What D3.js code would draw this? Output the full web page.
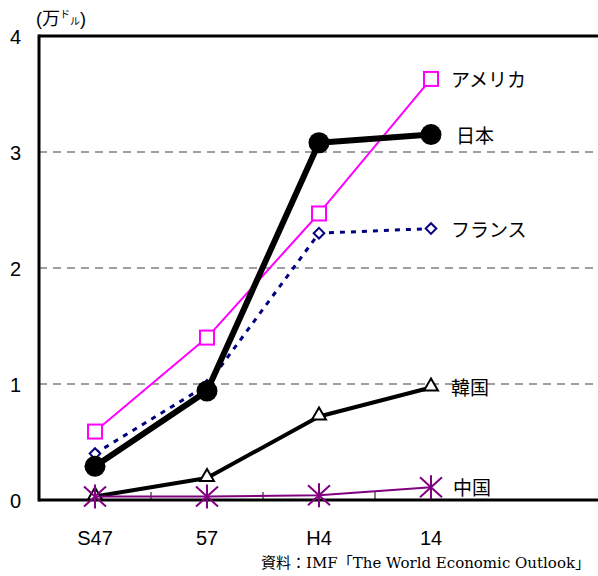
<!DOCTYPE html>
<html><head><meta charset="utf-8">
<script src="https://cdn.jsdelivr.net/npm/d3@7"></script>
<style>body{margin:0;background:#fff}svg{display:block}</style>
</head><body>
<script>
const categories = ["S47", "57", "H4", "14", ""];
const usa = [0.59, 1.40, 2.47, 3.63];
const japan = [0.29, 0.94, 3.08, 3.15];
const france = [0.40, 0.99, 2.30, 2.34];
const korea = [0.03, 0.19, 0.72, 0.97];
const china = [0.03, 0.03, 0.04, 0.11];
const yTicks = [0, 1, 2, 3, 4];
const seriesNames = ["アメリカ", "日本", "フランス", "韓国", "中国"];

(function () {
const W = 598, H = 576;
const svg = d3.select("body").append("svg").attr("width", W).attr("height", H);
const mLeft = 39, mRight = 599, mTop = 36, mBottom = 500;
const x = d3.scaleBand().domain(categories.map((c, i) => i)).range([mLeft, mRight]);
const y = d3.scaleLinear().domain([0, 4]).range([mBottom, mTop]);
const cx = i => x(i) + x.bandwidth() / 2;
const font = "Arial, 'Liberation Sans', 'Noto Sans CJK JP', sans-serif";

// gridlines
svg.append("g").selectAll("line").data([1, 2, 3]).join("line")
  .attr("x1", mLeft).attr("x2", W).attr("y1", d => y(d)).attr("y2", d => y(d))
  .attr("stroke", "#808080").attr("stroke-width", 1.5).attr("stroke-dasharray", "8,6");

// frame
svg.append("line").attr("x1", mLeft).attr("x2", W).attr("y1", mTop).attr("y2", mTop).attr("stroke", "#000").attr("stroke-width", 3);
svg.append("line").attr("x1", mLeft).attr("x2", mLeft).attr("y1", mTop - 1.5).attr("y2", mBottom + 1.5).attr("stroke", "#000").attr("stroke-width", 3);

// x-axis
const xAxis = d3.axisBottom(x).tickSizeInner(0).tickSizeOuter(0).tickFormat(i => categories[i]);
const gx = svg.append("g").attr("transform", `translate(0,${mBottom})`).call(xAxis);
gx.select(".domain").remove();
gx.selectAll("text").attr("font-family", font).attr("font-size", 20).attr("fill", "#000").attr("dy", 0).attr("y", 45);
svg.append("g").selectAll("line").data([1, 2, 3]).join("line")
  .attr("x1", i => x(i)).attr("x2", i => x(i)).attr("y1", mBottom).attr("y2", mBottom - 8)
  .attr("stroke", "#000").attr("stroke-width", 1);
svg.append("line").attr("x1", mLeft).attr("x2", W).attr("y1", mBottom).attr("y2", mBottom).attr("stroke", "#000").attr("stroke-width", 3);

// y-axis labels
const yAxis = d3.axisLeft(y).tickValues(yTicks).tickSize(0).tickFormat(d3.format("d"));
const gy = svg.append("g").attr("transform", `translate(${mLeft},0)`).call(yAxis);
gy.select(".domain").remove();
gy.selectAll("text").attr("font-family", font).attr("font-size", 20).attr("fill", "#000").attr("x", -18).attr("dy", "0.36em");

// unit label
const unit = svg.append("text").attr("x", 36).attr("y", 25).attr("font-family", font).attr("font-size", 18).attr("fill", "#000");
unit.append("tspan").text("(万");
unit.append("tspan").attr("font-size", 10).attr("dy", -7).text("ド");
unit.append("tspan").attr("font-size", 10).attr("dy", 7).text("ル");
unit.append("tspan").text(")");

const line = d3.line().x((d, i) => cx(i)).y(d => y(d));

function drawSeries(data, color, width, dash) {
  svg.append("path").datum(data).attr("d", line).attr("fill", "none")
    .attr("stroke", color).attr("stroke-width", width).attr("stroke-dasharray", dash || null)
    .attr("stroke-linejoin", "round");
}

// USA
drawSeries(usa, "#FF00FF", 2);
svg.append("g").selectAll("rect").data(usa).join("rect")
  .attr("x", (d, i) => cx(i) - 7).attr("y", d => y(d) - 7).attr("width", 14).attr("height", 14)
  .attr("fill", "#fff").attr("stroke", "#FF00FF").attr("stroke-width", 2);

// France
drawSeries(france, "#000080", 3, "5,6");
svg.append("g").selectAll("path").data(france).join("path")
  .attr("d", d3.symbol(d3.symbolDiamond2, 72))
  .attr("transform", (d, i) => `translate(${cx(i)},${y(d)})`)
  .attr("fill", "#fff").attr("stroke", "#000080").attr("stroke-width", 2);

// Japan
drawSeries(japan, "#000", 6);
svg.append("g").selectAll("circle").data(japan).join("circle")
  .attr("cx", (d, i) => cx(i)).attr("cy", d => y(d)).attr("r", 10.5).attr("fill", "#000");

// Korea
drawSeries(korea, "#000", 4);
svg.append("g").selectAll("path").data(korea).join("path")
  .attr("d", d3.symbol(d3.symbolTriangle2, 140))
  .attr("transform", (d, i) => `translate(${cx(i)},${y(d) - 1})`)
  .attr("fill", "#fff").attr("stroke", "#000").attr("stroke-width", 2);

// China
drawSeries(china, "#800080", 2);
const star = svg.append("g").selectAll("g").data(china).join("g")
  .attr("transform", (d, i) => `translate(${cx(i)},${y(d)})`);
star.append("path").attr("d", "M-11,-10L11,10M11,-10L-11,10M0,-12L0,12")
  .attr("stroke", "#800080").attr("stroke-width", 2).attr("fill", "none");

// series labels
const labelData = [usa, japan, france, korea, china];
const labelDx = [20, 25, 20, 20, 22];
svg.append("g").selectAll("text").data(seriesNames).join("text")
  .attr("x", (d, i) => cx(3) + labelDx[i])
  .attr("y", (d, i) => y(labelData[i][3]))
  .attr("dy", "0.42em")
  .attr("font-family", "'Noto Sans CJK JP', sans-serif").attr("font-size", 19).attr("fill", "#000")
  .text(d => d);

// source
svg.append("text").attr("x", 590).attr("y", 568).attr("text-anchor", "end")
  .attr("font-family", "'DejaVu Serif', 'Liberation Serif', 'Noto Sans CJK JP', serif").attr("font-size", 15).attr("fill", "#000")
  .text("資料：IMF「The World Economic Outlook」");
})();
</script>
</body></html>
